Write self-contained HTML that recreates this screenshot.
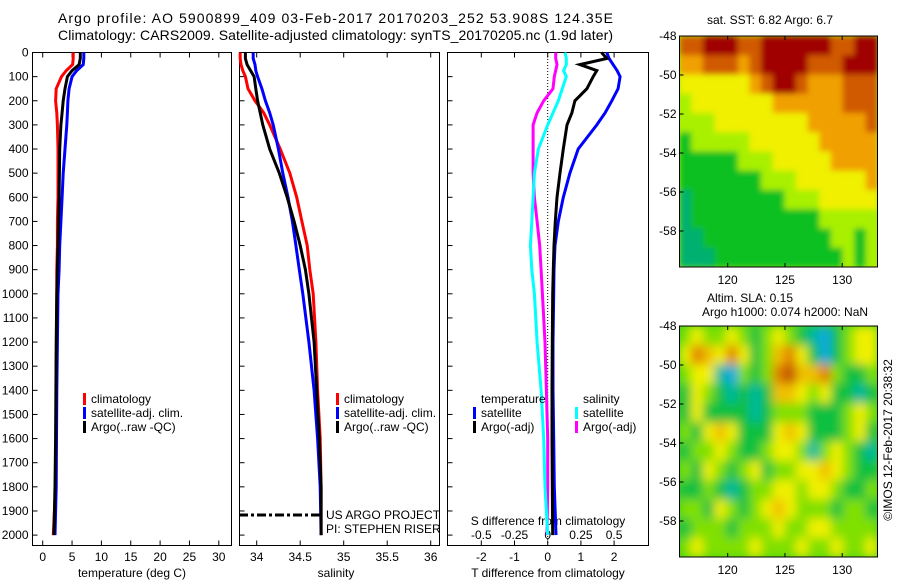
<!DOCTYPE html>
<html><head><meta charset="utf-8"><style>
body{margin:0;background:#fff;}
svg{display:block;font-family:"Liberation Sans",sans-serif;}
text{font-size:12px;fill:#000;}
</style></head><body>
<svg id="c" width="900" height="580" viewBox="0 0 900 580">
<defs>
<filter id="blurA" x="-10%" y="-10%" width="120%" height="120%"><feGaussianBlur stdDeviation="5" edgeMode="duplicate"/></filter>
<filter id="blurB" x="-10%" y="-10%" width="120%" height="120%"><feGaussianBlur stdDeviation="3" edgeMode="duplicate"/></filter>
<clipPath id="clipA"><rect x="679.5" y="36" width="198" height="231"/></clipPath>
<clipPath id="clipB"><rect x="679.5" y="326" width="198" height="231"/></clipPath>
</defs>
<rect width="900" height="580" fill="#fff"/>
<text x="58" y="23" style="font-size:14px" textLength="555">Argo profile: AO 5900899_409 03-Feb-2017 20170203_252 53.908S 124.35E</text>
<text x="58" y="40" style="font-size:14px" textLength="555">Climatology: CARS2009. Satellite-adjusted climatology: synTS_20170205.nc (1.9d later)</text>
<g id="g"></g>
</svg>
<script>
const depths=[0,25,50,75,100,150,200,250,300,400,500,600,700,800,900,1000,1200,1400,1600,1800,2000];
const tClim=[5.2,5.2,5.1,4.0,3.2,2.3,2.2,2.4,2.5,2.6,2.6,2.6,2.5,2.5,2.4,2.4,2.35,2.3,2.3,2.2,1.8];
const tSat=[7.0,7.0,6.9,5.8,5.0,4.5,4.3,4.2,4.1,3.8,3.5,3.3,3.1,2.9,2.8,2.6,2.5,2.4,2.35,2.3,2.1];
const tArgo=[6.4,6.4,6.2,5.0,4.2,3.8,3.5,3.3,3.1,2.9,2.85,2.8,2.7,2.6,2.5,2.4,2.3,2.25,2.2,2.1,1.9];
const sClim=[33.81,33.81,33.82,33.84,33.87,33.9,33.98,34.08,34.15,34.27,34.38,34.46,34.52,34.58,34.61,34.65,34.68,34.70,34.73,34.74,34.74];
const sSat=[33.96,33.96,33.98,33.99,34.01,34.06,34.1,34.15,34.19,34.25,34.3,34.36,34.41,34.45,34.49,34.53,34.6,34.66,34.7,34.73,34.74];
const sArgo=[33.87,33.87,33.89,33.93,33.97,33.99,34.01,34.04,34.07,34.15,34.26,34.35,34.43,34.5,34.56,34.6,34.66,34.69,34.72,34.74,34.74];
const dTSat=[1.78,1.85,1.97,2.09,2.18,2.12,1.93,1.73,1.48,0.92,0.67,0.47,0.32,0.22,0.19,0.18,0.16,0.16,0.18,0.2,0.25];
const dTArgo=[1.62,1.78,0.97,1.48,1.37,1.18,0.82,0.73,0.58,0.47,0.37,0.28,0.23,0.19,0.17,0.15,0.14,0.13,0.13,0.14,0.15];
const dSSat=[0.13,0.14,0.14,0.12,0.14,0.11,0.08,0.04,0.0,-0.07,-0.1,-0.11,-0.12,-0.13,-0.12,-0.1,-0.08,-0.05,-0.03,-0.02,0.0];
const dSArgo=[0.06,0.06,0.07,0.06,0.05,0.04,-0.03,-0.08,-0.11,-0.11,-0.11,-0.1,-0.08,-0.06,-0.05,-0.04,-0.02,-0.01,0,0,-0.005];
const tTicks=[0,5,10,15,20,25,30];
const sTicks=[34,34.5,35,35.5,36];
const dTTicks=[-2,-1,0,1,2];
const dSTicks=[-0.5,-0.25,0,0.25,0.5];
const depthTicks=[0,100,200,300,400,500,600,700,800,900,1000,1100,1200,1300,1400,1500,1600,1700,1800,1900,2000];
const lonTicks=[120,125,130];
const latTicks=[-48,-50,-52,-54,-56,-58];
const sstGrid=[
[1,1,0,0,0,1,1,0,0,0,0,0,0,1,1,0,0],
[2,2,1,1,1,2,1,0,0,0,0,1,1,1,0,0,0],
[3,3,3,3,3,3,2,1,0,0,1,2,2,2,1,1,1],
[4,3,3,3,3,3,3,3,2,2,2,2,2,2,1,1,1],
[4,4,4,3,3,3,3,3,3,3,3,2,2,2,2,2,1],
[5,4,4,4,4,4,3,3,3,3,3,3,2,2,2,2,2],
[5,5,5,5,5,4,4,4,3,3,3,3,3,2,2,2,2],
[5,5,5,5,5,5,5,4,4,4,3,3,3,3,3,3,2],
[6,5,5,5,5,5,5,5,5,4,4,4,3,3,3,3,3],
[6,5,5,5,5,5,5,5,5,5,5,5,4,4,4,4,4],
[6,6,5,5,5,5,5,5,5,5,5,5,5,4,4,5,4],
[6,6,6,5,5,5,5,5,5,5,5,5,5,5,4,5,4]];
const slaGrid=[
[3,4,3,3,4,3,2,3,4,3,2,1,0,2,3,4,4],
[4,6,5,4,6,4,2,3,5,6,4,2,0,2,3,4,4],
[3,4,4,1,0,3,2,3,6,7,5,5,6,3,2,2,3],
[2,4,3,2,1,2,1,2,5,5,4,3,4,2,2,1,2],
[2,4,2,2,2,2,1,2,3,3,3,2,2,2,3,4,3],
[3,2,4,5,4,2,2,2,4,5,4,2,2,2,3,4,2],
[2,3,3,4,3,2,2,3,4,4,3,1,3,4,3,2,1],
[3,2,4,3,2,3,4,2,3,3,4,4,5,4,3,2,2],
[2,2,3,2,1,2,3,3,4,4,3,4,4,3,2,2,3],
[3,3,2,4,3,2,3,4,5,4,3,3,3,2,3,3,2],
[2,3,3,3,2,3,3,3,4,3,3,4,4,3,3,3,3],
[3,4,3,3,3,3,4,3,3,3,4,3,3,4,3,3,4]];
const sstColors=['#a00000','#d05a00','#f0a000','#f0f000','#a8f000','#10c020','#00b070'];
const slaColors=['#10a8e0','#00b8a0','#10c040','#80e000','#f0f000','#f0c000','#e08000','#c05000'];

const NS='http://www.w3.org/2000/svg';
const G=document.getElementById('g');
function el(tag,attrs,parent){const e=document.createElementNS(NS,tag);for(const k in attrs)e.setAttribute(k,attrs[k]);(parent||G).appendChild(e);return e;}
function txt(x,y,s,anchor,parent){const t=el('text',{x:x,y:y,'text-anchor':anchor||'start'},parent);t.textContent=s;return t;}
const yD=d=>52.5+d*0.2413;
const xT=v=>42.7+v*5.87;
const xS=v=>256.7+(v-34)*87;
const xDT=v=>547.7+v*33.2;
const xDS=v=>547.7+v*132.8;

function panel(name,x0,x1,labels){
  const g=el('g',{});
  
  
  el('rect',{x:x0,y:52.5,width:x1-x0,height:493,fill:'none',stroke:'#000','stroke-width':1},g);
  depthTicks.forEach(d=>{
    el('line',{x1:x0,x2:x0+5,y1:yD(d),y2:yD(d),stroke:'#000'},g);
    if(labels){const t=txt(x0-4,yD(d)+4,String(d),'end',g);
      
      }
  });
  return g;
}
function xticks(g,ticks,fx,labelY,fmt){
  ticks.forEach(v=>{
    el('line',{x1:fx(v),x2:fx(v),y1:545.5,y2:540.5,stroke:'#000'},g);
    el('line',{x1:fx(v),x2:fx(v),y1:52.5,y2:57.5,stroke:'#000'},g);
    if(labelY){const t=txt(fx(v),labelY,fmt?fmt(v):String(v),'middle',g);
      
      }
  });
}
function line(g,xs,f,color,name,w){
  const pts=xs.map((v,i)=>f(v).toFixed(1)+','+yD(depths[i]).toFixed(1)).join(' ');
  const p=el('polyline',{points:pts,fill:'none',stroke:color,'stroke-width':w||3},g);
  
  
}
function legend(g,x,y,color,label){
  el('rect',{x:x,y:y-10,width:3,height:12,fill:color},g);
  const t=txt(x+8,y,label,'start',g);
  
  
}
// panel 1
const p1=panel('temperature-panel',32.5,231.5,true);
xticks(p1,tTicks,xT,561);
const xl1=txt(132,577,'temperature (deg C)','middle',p1);


line(p1,tClim,xT,'#f00','temperature-climatology');
line(p1,tSat,xT,'#00f','temperature-satellite');
line(p1,tArgo,xT,'#000','temperature-argo');
legend(p1,83,403,'#f00','climatology');
legend(p1,83,417,'#00f','satellite-adj. clim.');
legend(p1,83,431,'#000','Argo(..raw -QC)');
// panel 2
const p2=panel('salinity-panel',239.5,439.5,false);
xticks(p2,sTicks,xS,561);
const xl2=txt(336,577,'salinity','middle',p2);


line(p2,sClim,xS,'#f00','salinity-climatology');
line(p2,sSat,xS,'#00f','salinity-satellite');
line(p2,sArgo,xS,'#000','salinity-argo');
legend(p2,336,403,'#f00','climatology');
legend(p2,336,417,'#00f','satellite-adj. clim.');
legend(p2,336,431,'#000','Argo(..raw -QC)');
el('line',{x1:239,x2:321,y1:515,y2:515,stroke:'#000','stroke-width':3,'stroke-dasharray':'9,3,3,3'},p2);
txt(326,519,'US ARGO PROJECT','start',p2);
txt(326,533,'PI: STEPHEN RISER','start',p2);
// panel 3
const p3=panel('difference-panel',447.5,648.5,false);
xticks(p3,dTTicks,xDT,561);
dSTicks.forEach(v=>{const t=txt(xDS(v),539,String(v),'middle',p3);
  
  });
txt(548,525,'S difference from climatology','middle',p3);
const xl3=txt(548,577,'T difference from climatology','middle',p3);


el('line',{x1:547.7,x2:547.7,y1:53,y2:545,stroke:'#000','stroke-dasharray':'1,2'},p3);
line(p3,dSArgo,xDS,'#f0f','salinity-diff-argo');
line(p3,dSSat,xDS,'#0ff','salinity-diff-satellite');
line(p3,dTSat,xDT,'#00f','temperature-diff-satellite');
line(p3,dTArgo,xDT,'#000','temperature-diff-argo');
txt(481,403,'temperature','start',p3);
legend(p3,473,417,'#00f','satellite');
legend(p3,473,431,'#000','Argo(-adj)');
txt(583,403,'salinity','start',p3);
legend(p3,575,417,'#0ff','satellite');
legend(p3,575,431,'#f0f','Argo(-adj)');
// maps
function map(name,grid,colors,x0,y0,y48,clip,filt,bg){
  const g=el('g',{});
  
  
  const w=198,h=231,cw=w/17,ch=h/12;
  const cg=el('g',{'clip-path':'url(#'+clip+')'},g);
  el('rect',{x:x0,y:y0,width:w,height:h,fill:bg},cg);
  const fg=el('g',{filter:'url(#'+filt+')'},cg);
  grid.forEach((row,r)=>row.forEach((v,c)=>{
    const cell=el('rect',{x:x0+c*cw,y:y0+r*ch,width:cw+0.6,height:ch+0.6,fill:colors[v]},fg);
    
    
  }));
  el('rect',{x:x0,y:y0,width:w,height:h,fill:'none',stroke:'#000'},g);
  const lx=v=>727.7+(v-120)*11.45;
  const ly=v=>y48+(-48-v)*19.5;
  lonTicks.forEach(v=>{
    el('line',{x1:lx(v),x2:lx(v),y1:y0,y2:y0+4,stroke:'#000'},g);
    el('line',{x1:lx(v),x2:lx(v),y1:y0+h,y2:y0+h-4,stroke:'#000'},g);
    txt(lx(v),y0+h+17,String(v),'middle',g);
  });
  latTicks.forEach(v=>{
    el('line',{x1:x0,x2:x0+4,y1:ly(v),y2:ly(v),stroke:'#000'},g);
    txt(x0-3,ly(v)+4,String(v),'end',g);
  });
  return g;
}
map('sst-map',sstGrid,sstColors,679.5,36,36,'clipA','blurB','#a8f000');
map('sla-map',slaGrid,slaColors,679.5,326,326,'clipB','blurA','#40d020');
const st=txt(770,24,'sat. SST: 6.82 Argo: 6.7','middle');


txt(750,302,'Altim. SLA: 0.15','middle');
txt(785,316,'Argo h1000: 0.074 h2000: NaN','middle');
const cp=txt(0,0,'©IMOS 12-Feb-2017 20:38:32','middle');
cp.setAttribute('transform','translate(892,440) rotate(-90)');


</script>
</body></html>
